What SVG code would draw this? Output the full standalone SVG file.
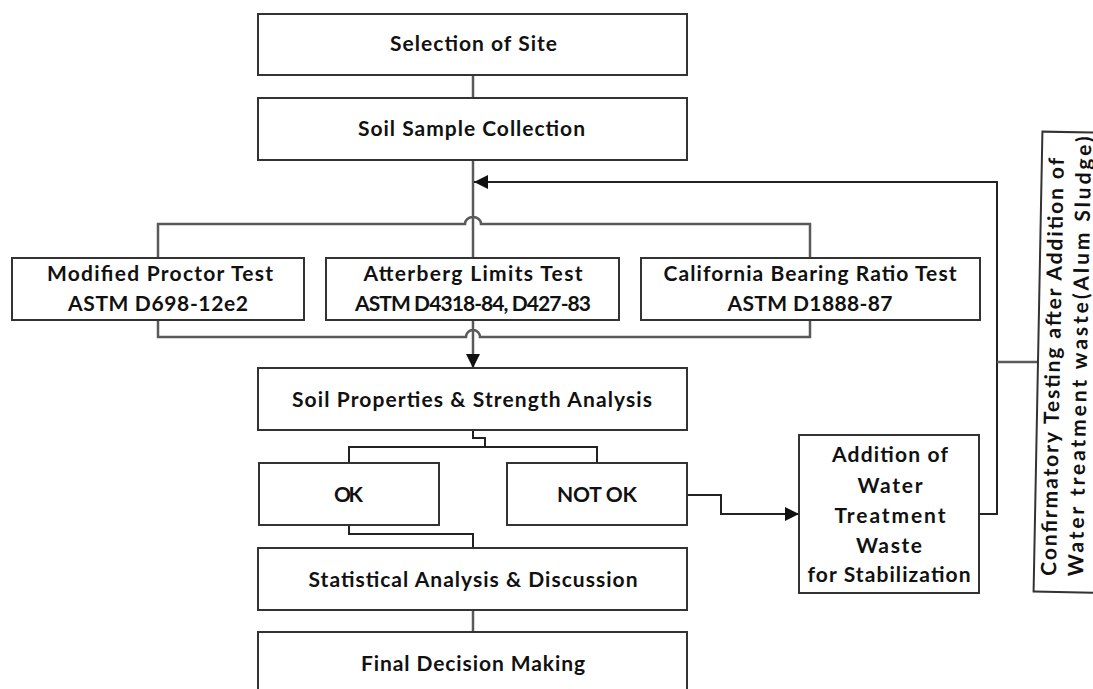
<svg xmlns="http://www.w3.org/2000/svg" width="1093" height="689" viewBox="0 0 1093 689">
<style>
.box{fill:#fff;stroke:#333;stroke-width:2}
.t{font-family:Lato,"Liberation Sans",sans-serif;font-weight:700;font-size:21px;fill:#111;text-anchor:middle}
.ts{font-family:Lato,"Liberation Sans",sans-serif;font-weight:700;font-size:21px;fill:#111;text-anchor:start}
.c{fill:none;stroke:#5a5a5a;stroke-width:2.5}
.k{fill:none;stroke:#222;stroke-width:2}
</style>
<defs>
<marker id="ah" viewBox="0 0 10 10" refX="10" refY="5" markerWidth="16" markerHeight="14" orient="auto" markerUnits="userSpaceOnUse">
<path d="M0,0 L10,5 L0,10 z" fill="#111"/>
</marker>
</defs>
<rect width="1093" height="689" fill="#fff"/>
<g id="connectors">
<path class="c" d="M473,75 V98"/>
<path class="c" d="M473,160 V258"/>
<path class="c" d="M158,258 V224 H465 A8,7 0 0 1 481,224 H810 V258"/>
<path class="c" d="M158,320 V337 H466 A7,7 0 0 1 480,337 H810 V320"/>
<path class="c" d="M473,320 V368" marker-end="url(#ah)"/>
<path class="k" d="M473,430 V438 H485 V447"/>
<path class="k" d="M349,463 V447 H597 V463"/>
<path class="k" d="M349,525 V534 H473 V548"/>
<path class="c" d="M473,610 V632"/>
<path class="k" d="M687,495 H721 V514 H799" marker-end="url(#ah)"/>
<path class="k" d="M979,514 H997 V182 H474" marker-end="url(#ah)"/>
<path class="c" d="M997,362 H1037"/>
</g>
<g id="n-site">
<rect class="box" x="258" y="14" width="429" height="61"/>
<text class="t" x="473.5" y="51" textLength="167">Selection of Site</text>
</g>
<g id="n-collection">
<rect class="box" x="258" y="98" width="429" height="62"/>
<text class="t" x="471.5" y="136" textLength="227">Soil Sample Collection</text>
</g>
<g id="n-proctor">
<rect class="box" x="12" y="258" width="292" height="62"/>
<text class="t" x="160" y="281" textLength="226">Modified Proctor Test</text>
<text class="t" x="158" y="311" textLength="180">ASTM D698-12e2</text>
</g>
<g id="n-atterberg">
<rect class="box" x="326" y="258" width="293" height="62"/>
<text class="t" x="473" y="281" textLength="219">Atterberg Limits Test</text>
<text class="t" x="473" y="311" textLength="236">ASTM D4318-84, D427-83</text>
</g>
<g id="n-cbr">
<rect class="box" x="641" y="258" width="339" height="62"/>
<text class="t" x="810" y="281" textLength="293">California Bearing Ratio Test</text>
<text class="t" x="810" y="311" textLength="165">ASTM D1888-87</text>
</g>
<g id="n-analysis">
<rect class="box" x="258" y="368" width="429" height="62"/>
<text class="t" x="472" y="407" textLength="360">Soil Properties &amp; Strength Analysis</text>
</g>
<g id="n-ok">
<rect class="box" x="259" y="463" width="180" height="62"/>
<text class="t" x="348.5" y="502" textLength="29">OK</text>
</g>
<g id="n-notok">
<rect class="box" x="507" y="463" width="180" height="62"/>
<text class="t" x="597" y="502" textLength="80">NOT OK</text>
</g>
<g id="n-stat">
<rect class="box" x="258" y="548" width="429" height="62"/>
<text class="t" x="473" y="587" textLength="329">Statistical Analysis &amp; Discussion</text>
</g>
<g id="n-final">
<rect class="box" x="258" y="632" width="429" height="62"/>
<text class="t" x="473" y="671" textLength="224">Final Decision Making</text>
</g>
<g id="n-addition">
<rect class="box" x="799" y="435" width="180" height="158"/>
<text class="t" x="890" y="462" textLength="116">Addition of</text>
<text class="t" x="890" y="493" textLength="65">Water</text>
<text class="t" x="890" y="523" textLength="111">Treatment</text>
<text class="t" x="889" y="553" textLength="66">Waste</text>
<text class="t" x="889" y="582" textLength="163">for Stabilization</text>
</g>
<g id="n-confirm" transform="rotate(1.1 1060 362)">
<rect class="box" x="1038" y="132" width="90" height="460"/>
<text class="ts" transform="translate(1060,576) rotate(-90)" textLength="418">Confirmatory Testing after Addition of</text>
<text class="ts" transform="translate(1087,576) rotate(-90)" textLength="440">Water treatment waste(Alum Sludge)</text>
</g>
</svg>
